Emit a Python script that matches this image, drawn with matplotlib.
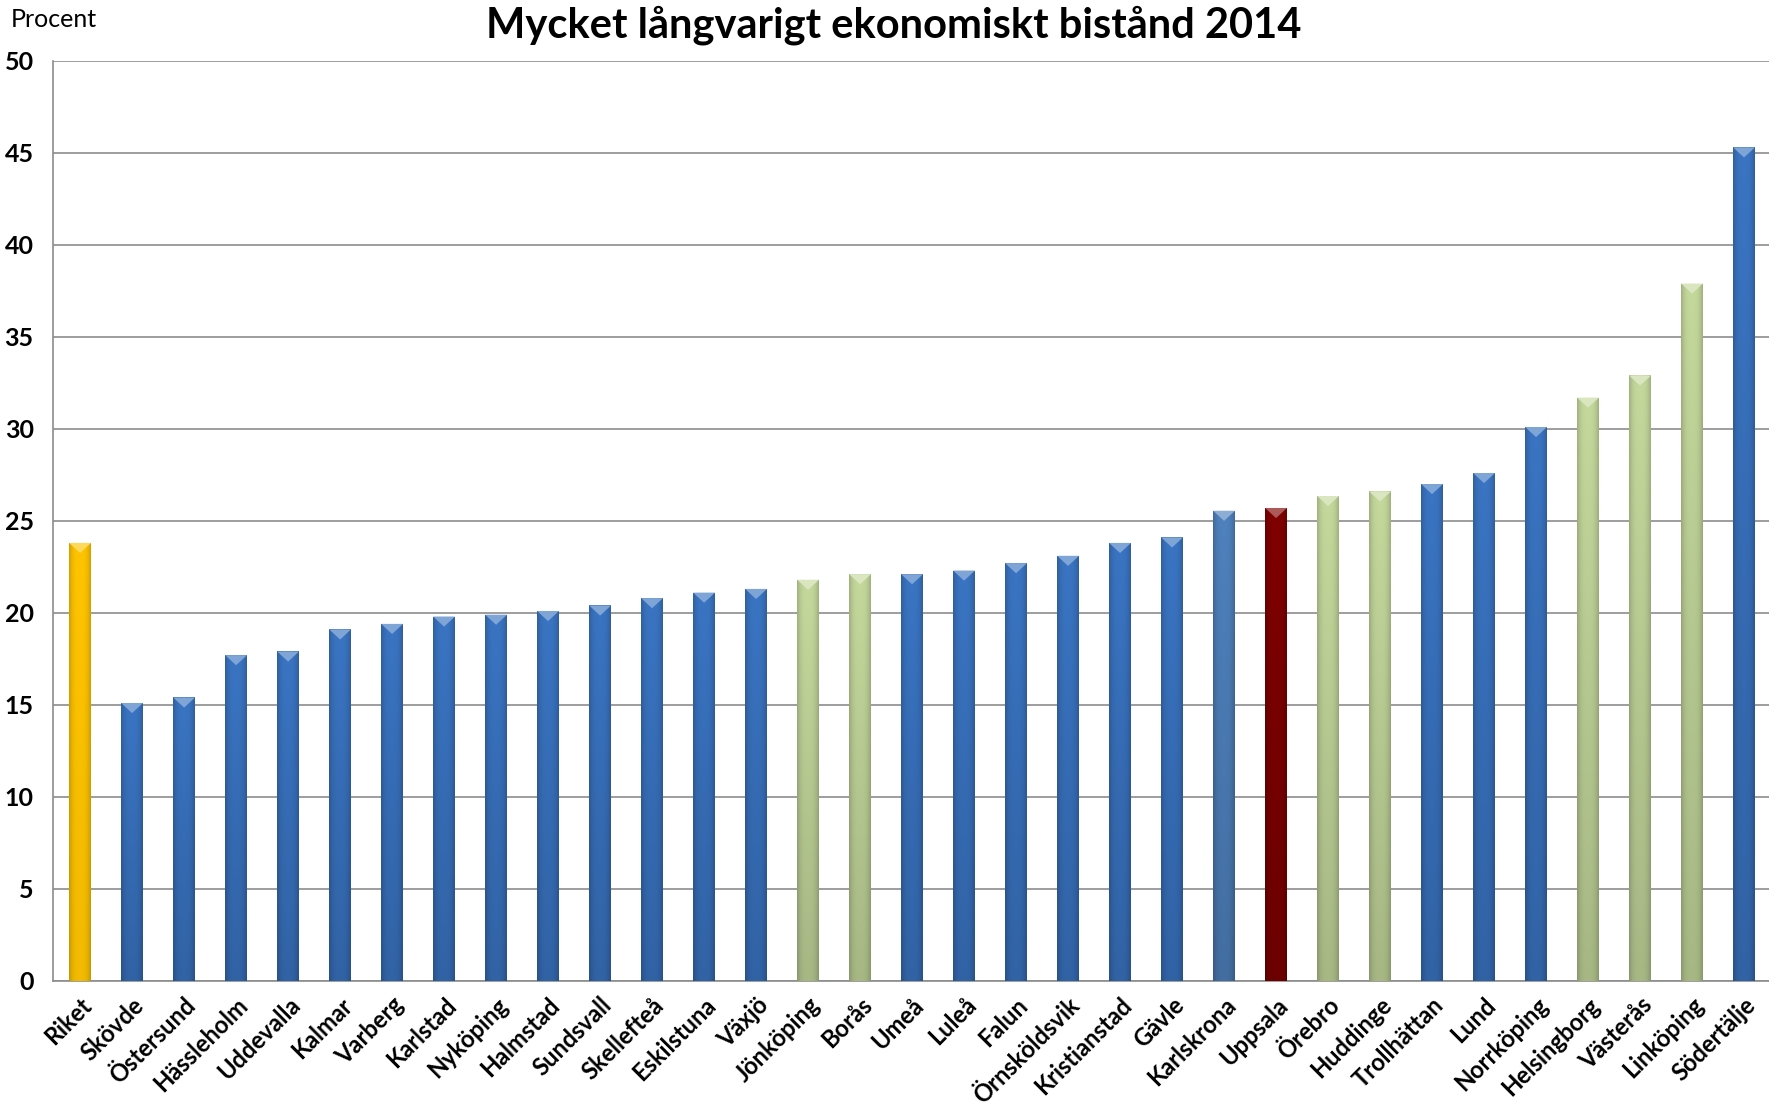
import numpy as np
import matplotlib.pyplot as plt
from matplotlib.patches import Polygon
from matplotlib.colors import to_rgb

plt.rcParams['font.family'] = ['Lato', 'DejaVu Sans']

# data
kommuner = ["Riket", "Skövde", "Östersund", "Hässleholm", "Uddevalla", "Kalmar",
            "Varberg", "Karlstad", "Nyköping", "Halmstad", "Sundsvall", "Skellefteå",
            "Eskilstuna", "Växjö", "Jönköping", "Borås", "Umeå", "Luleå", "Falun",
            "Örnsköldsvik", "Kristianstad", "Gävle", "Karlskrona", "Uppsala", "Örebro",
            "Huddinge", "Trollhättan", "Lund", "Norrköping", "Helsingborg", "Västerås",
            "Linköping", "Södertälje"]
andel = [23.8, 15.1, 15.4, 17.7, 17.9, 19.1, 19.4, 19.8, 19.9, 20.1, 20.4, 20.8,
         21.1, 21.3, 21.8, 22.1, 22.1, 22.3, 22.7, 23.1, 23.8, 24.1, 25.55, 25.7,
         26.35, 26.6, 27.0, 27.6, 30.1, 31.7, 32.9, 37.9, 45.3]
grupp = ["riket", "b", "b", "b", "b", "b", "b", "b", "b", "b", "b", "b", "b", "b",
         "g", "g", "b", "b", "b", "b", "b", "b", "lb", "r", "g", "g", "b", "b", "b",
         "g", "g", "g", "b"]

farger = {"riket": "#FFC400", "b": "#3A74C2", "g": "#C4D89C", "lb": "#4F81BD", "r": "#800000"}

fig = plt.figure(figsize=(17.69, 11.07), dpi=100)
ax = fig.add_axes([0.030, 0.114, 0.970, 0.831])

x = np.arange(len(kommuner))
w = 0.42
bars = ax.bar(x, andel, width=w, color=[farger[g] for g in grupp], zorder=2,
              edgecolor="none")

# shading: darker towards bottom and edges
for b, g in zip(bars, grupp):
    c = np.array(to_rgb(farger[g]))
    xx = np.linspace(-1, 1, 30)
    yy = np.linspace(0, 1, 60)[:, None]
    side = 1 - 0.18 * np.abs(xx) ** 3
    vert = 0.85 + 0.15 * yy
    if g == "riket":
        vert = 0.95 + 0.05 * yy
    img = c[None, None, :] * (side[None, :] * vert)[:, :, None]
    img = np.clip(img, 0, 1)
    x0, y0 = b.get_x(), b.get_y()
    im = ax.imshow(img, extent=[x0, x0 + b.get_width(), y0, y0 + b.get_height()],
                   origin="lower", aspect="auto", zorder=3, interpolation="bilinear")
    im.set_clip_path(b)
    # lighter chevron at top
    h = b.get_height()
    light = np.clip(c + (1 - c) * 0.35, 0, 1)
    tri = Polygon([[x0, h], [x0 + b.get_width(), h], [x0 + b.get_width() / 2, h - 0.55]],
                  closed=True, facecolor=light, edgecolor="none", zorder=4)
    ax.add_patch(tri)

ax.set_xlim(-0.52, len(kommuner) - 0.52)
ax.set_ylim(0, 50)
ax.set_yticks(range(0, 51, 5))
ax.yaxis.grid(True, color="#8C8C8C", linewidth=1.2, zorder=1)
ax.set_axisbelow(True)
ax.tick_params(axis="both", length=0)
ax.tick_params(axis="y", pad=14)
for lab in ax.get_yticklabels():
    lab.set_fontsize(18)
    lab.set_fontweight("bold")

ax.set_xticks(x)
ax.set_xticklabels(kommuner, rotation=45, ha="right", rotation_mode="anchor",
                   fontsize=17, fontweight="bold")
ax.tick_params(axis="x", pad=9)

for s in ["top", "right"]:
    ax.spines[s].set_visible(False)
for s in ["left", "bottom"]:
    ax.spines[s].set_color("#8C8C8C")
    ax.spines[s].set_linewidth(1.2)

fig.text(0.505, 0.995, "Mycket långvarigt ekonomiskt bistånd 2014", ha="center", va="top",
         fontsize=30, fontweight="bold")
fig.text(0.006, 0.993, "Procent", ha="left", va="top", fontsize=18)

fig.savefig("out.png", dpi=100)
